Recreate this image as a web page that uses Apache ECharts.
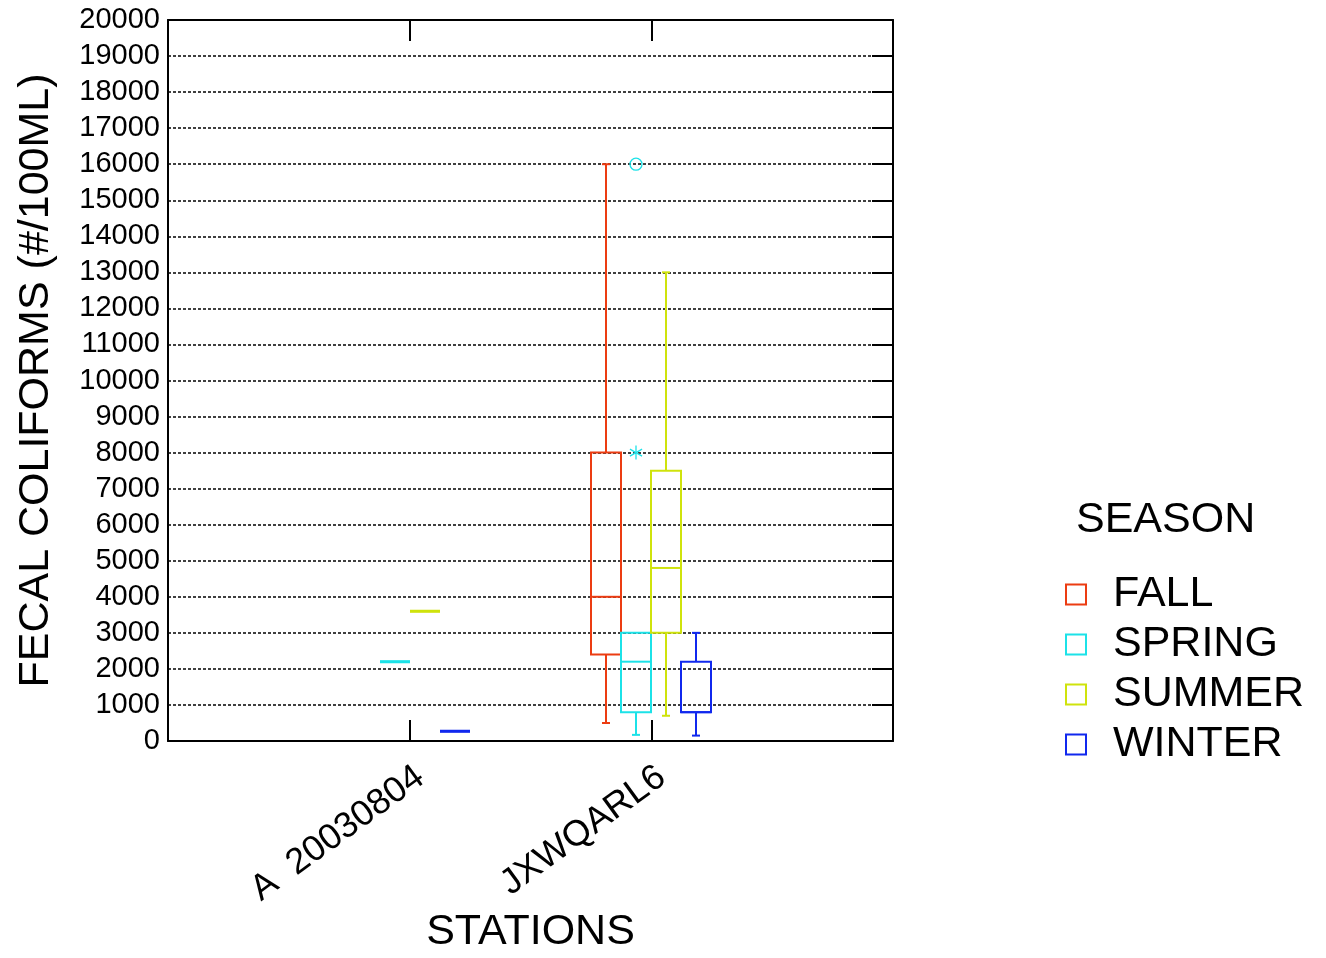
<!DOCTYPE html>
<html>
<head>
<meta charset="utf-8">
<script src="https://cdn.jsdelivr.net/npm/echarts@6/dist/echarts.min.js"></script>
<style>html,body{margin:0;padding:0;background:#fff}#c{width:1326px;height:958px}</style>
</head>
<body>
<div id="c"></div>
<script>
// ---- data ----
const stations = ['A  20030804', 'JXWQARL6'];
const seasons = ['FALL', 'SPRING', 'SUMMER', 'WINTER'];
const seasonColors = ['#ec3c12', '#1ce2e8', '#cfe30c', '#1028ee'];
// box stats per station: [low, q1, median, q3, high]; null = no data
const fallStats   = [null, [500, 2400, 4000, 8000, 16000]];
const springStats = [[2200, 2200, 2200, 2200, 2200], [170, 800, 2200, 3000, 3000]];
const summerStats = [[3600, 3600, 3600, 3600, 3600], [700, 3000, 4800, 7500, 13000]];
const winterStats = [[270, 270, 270, 270, 270], [150, 800, 800, 2200, 3000]];
// spring outliers at JXWQARL6
const springFarOutliers = [16000];   // circle
const springNearOutliers = [8000];   // asterisk
const yTicks = { min: 0, max: 20000, interval: 1000 };

const allStats = [fallStats, springStats, summerStats, winterStats];
const OFFSETS = [-45, -15, 15, 45];
const HALF = 15;

function boxRender(params, api) {
  const si = params.seriesIndex;
  const cat = api.value(0);
  const low = api.value(1), q1 = api.value(2), med = api.value(3), q3 = api.value(4), high = api.value(5);
  const cx = Math.round(api.coord([cat, 0])[0]) + OFFSETS[si];
  const y = v => api.coord([cat, v])[1];
  const color = seasonColors[si];
  const st = { stroke: color, lineWidth: 2, fill: null };
  const ch = [];
  if (high > q3) {
    ch.push({ type: 'line', shape: { x1: cx, y1: y(q3), x2: cx, y2: y(high) }, style: st });
    ch.push({ type: 'line', shape: { x1: cx - 4, y1: y(high), x2: cx + 4, y2: y(high) }, style: st });
  }
  if (low < q1) {
    ch.push({ type: 'line', shape: { x1: cx, y1: y(q1), x2: cx, y2: y(low) }, style: st });
    ch.push({ type: 'line', shape: { x1: cx - 4, y1: y(low), x2: cx + 4, y2: y(low) }, style: st });
  }
  const degenerate = q3 === q1;
  ch.push({ type: 'rect', shape: { x: cx - HALF, y: y(q3), width: 2 * HALF, height: y(q1) - y(q3) },
            style: { stroke: color, lineWidth: degenerate ? 3 : 2, fill: null } });
  ch.push({ type: 'line', shape: { x1: cx - HALF, y1: y(med), x2: cx + HALF, y2: y(med) }, style: st });
  return { type: 'group', children: ch };
}

function outlierRender(params, api) {
  const cat = api.value(0), v = api.value(1), kind = api.value(2);
  const cx = Math.round(api.coord([cat, 0])[0]) + OFFSETS[1];
  const cy = api.coord([cat, v])[1];
  const st = { stroke: seasonColors[1], lineWidth: 1.3, fill: null };
  if (kind === 0) {
    return { type: 'circle', shape: { cx: cx, cy: cy, r: 6 }, style: st };
  }
  const r = 7, ch = [];
  for (let k = 0; k < 3; k++) {
    const a = Math.PI / 2 + k * Math.PI / 3;
    ch.push({ type: 'line', shape: { x1: cx - r * Math.cos(a), y1: cy - r * Math.sin(a), x2: cx + r * Math.cos(a), y2: cy + r * Math.sin(a) }, style: st });
  }
  return { type: 'group', children: ch };
}

const series = seasons.map((name, si) => ({
  name: name,
  type: 'custom',
  xAxisIndex: 0, yAxisIndex: 0,
  renderItem: boxRender,
  itemStyle: { color: seasonColors[si] },
  encode: { x: 0, y: [1, 2, 3, 4, 5] },
  data: allStats[si].map((s, i) => s ? [i + 1].concat(s) : null).filter(d => d)
}));
series.push({
  name: 'SPRING outliers',
  type: 'custom',
  renderItem: outlierRender,
  encode: { x: 0, y: 1 },
  data: springFarOutliers.map(v => [2, v, 0]).concat(springNearOutliers.map(v => [2, v, 1]))
});

const FONT = 'Liberation Sans, Arial, sans-serif';
const chart = echarts.init(document.getElementById('c'), null, { renderer: 'canvas' });
chart.setOption({
  animation: false,
  backgroundColor: '#fff',
  grid: { left: 168, right: 433, top: 20, bottom: 217, containLabel: false, outerBoundsMode: 'none' },
  title: {
    text: 'SEASON', left: 1071, top: 494,
    textStyle: { fontFamily: FONT, fontSize: 43, fontWeight: 'normal', color: '#000' }
  },
  legend: {
    orient: 'vertical', left: 1065, top: 573, padding: 0,
    itemWidth: 20, itemHeight: 20, itemGap: 7,
    icon: 'rect',
    data: seasons.map((s, i) => ({ name: s, itemStyle: { color: '#fff', borderColor: seasonColors[i], borderWidth: 2 } })),
    textStyle: { fontFamily: FONT, fontSize: 43, color: '#000', lineHeight: 43, padding: [0, 0, 0, 22] }
  },
  xAxis: [{
    type: 'value', min: 0, max: 3, interval: 1, position: 'bottom',
    name: 'STATIONS', nameLocation: 'middle', nameGap: 170, nameMoveOverlap: false,
    nameTextStyle: { fontFamily: FONT, fontSize: 43, color: '#000', verticalAlign: 'top' },
    axisLine: { show: true, onZero: false, lineStyle: { color: '#000', width: 2 } },
    axisTick: { show: true, inside: true, length: 21, lineStyle: { color: '#000', width: 2 } },
    splitLine: { show: false },
    axisLabel: {
      rotate: 36, margin: 18, verticalAlign: 'top', fontFamily: FONT, fontSize: 36, color: '#000',
      formatter: v => (v >= 1 && v <= stations.length) ? stations[v - 1] : ''
    }
  }, {
    type: 'value', min: 0, max: 3, interval: 1, position: 'top',
    axisLine: { show: true, onZero: false, lineStyle: { color: '#000', width: 2 } },
    axisTick: { show: true, inside: true, length: 21, lineStyle: { color: '#000', width: 2 } },
    axisLabel: { show: false }, splitLine: { show: false }
  }],
  yAxis: [{
    type: 'value', min: yTicks.min, max: yTicks.max, interval: yTicks.interval, position: 'left',
    name: 'FECAL COLIFORMS (#/100ML)', nameLocation: 'middle', nameGap: 110, nameRotate: 90,
    nameTextStyle: { fontFamily: FONT, fontSize: 43, color: '#000' },
    axisLine: { show: true, onZero: false, lineStyle: { color: '#000', width: 2 } },
    axisTick: { show: false },
    axisLabel: { margin: 8, fontFamily: FONT, fontSize: 29, color: '#000', formatter: v => String(v) },
    splitLine: { show: true, lineStyle: { color: '#000', width: 1.5, type: [3, 2] } }
  }, {
    type: 'value', min: yTicks.min, max: yTicks.max, interval: yTicks.interval, position: 'right',
    axisLine: { show: true, onZero: false, lineStyle: { color: '#000', width: 2 } },
    axisTick: { show: true, inside: true, length: 21, lineStyle: { color: '#000', width: 2 } },
    axisLabel: { show: false }, splitLine: { show: false }
  }],
  series: series
});
</script>
</body>
</html>
